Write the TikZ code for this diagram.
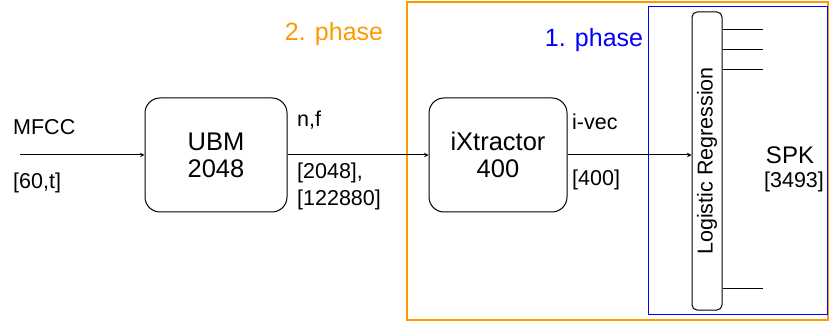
\documentclass[tikz,border=0pt]{standalone}
\usepackage{fontspec}
\setmainfont{Liberation Sans}
\usepackage{xcolor}
\definecolor{phasetwo}{RGB}{255,153,0}
\definecolor{phaseone}{RGB}{0,0,255}

\begin{document}
\begin{tikzpicture}[>=stealth, x=1pt, y=-1pt,
    box/.style={draw, rounded corners=15pt, line width=1pt, align=center, font=\fontsize{25.5}{27}\selectfont},
    lbl/.style={inner sep=0pt, font=\fontsize{21.5}{27}\selectfont},
    phase/.style={inner sep=0pt, font=\fontsize{25}{28}\selectfont}]
    \useasboundingbox (0,0) rectangle (830,323);

    \draw[phasetwo, line width=2.2pt] (407,2) rectangle (828,320);
    \draw[phaseone, line width=1pt] (648,7) rectangle (827,314);
    \node[phase, text=phasetwo] (p2) at (334,34) {2. phase};
    \node[phase, text=phaseone] (p1) at (594,40) {1. phase};

    \coordinate (in) at (20,155);
    \node[box, minimum width=142pt, minimum height=114pt] (ubm) at (216,155) {UBM\\2048};
    \node[box, minimum width=138pt, minimum height=114pt] (ixt) at (498,155) {iXtractor\\400};
    \node[draw, rounded corners=5pt, line width=1pt, rotate=90, minimum width=298pt, minimum height=30pt,
        inner sep=0pt, font=\fontsize{21.5}{24}\selectfont] (lr) at (707,161) {Logistic Regression};

    \draw[->, line width=1pt] (in) -- (ubm);
    \draw[->, line width=1pt] (ubm) -- (ixt);
    \draw[->, line width=1pt] (ixt.east) -- (ixt.east -| lr.north);

    \foreach \y in {30,50,70,288} {
        \coordinate (o\y) at (763,\y);
        \draw[line width=1pt] (lr.south |- o\y) -- (o\y);
    }

    \node[lbl, anchor=west] (mfcc) at (13,127) {MFCC};
    \node[lbl, anchor=west] (mfccdim) at (13,183) {[60,t]};
    \node[lbl, anchor=west] (nf) at (297,120) {n,f};
    \node[lbl, anchor=west, align=left] (nfdim) at (297,186) {[2048],\\{}[122880]};
    \node[lbl, anchor=west] (ivec) at (572,122) {i-vec};
    \node[lbl, anchor=west] (ivecdim) at (572,180) {[400]};
    \node[inner sep=0pt, font=\fontsize{24}{27}\selectfont] (spk) at (790,155) {SPK};
    \node[lbl] (spkdim) at (794,182) {[3493]};
\end{tikzpicture}
\end{document}
